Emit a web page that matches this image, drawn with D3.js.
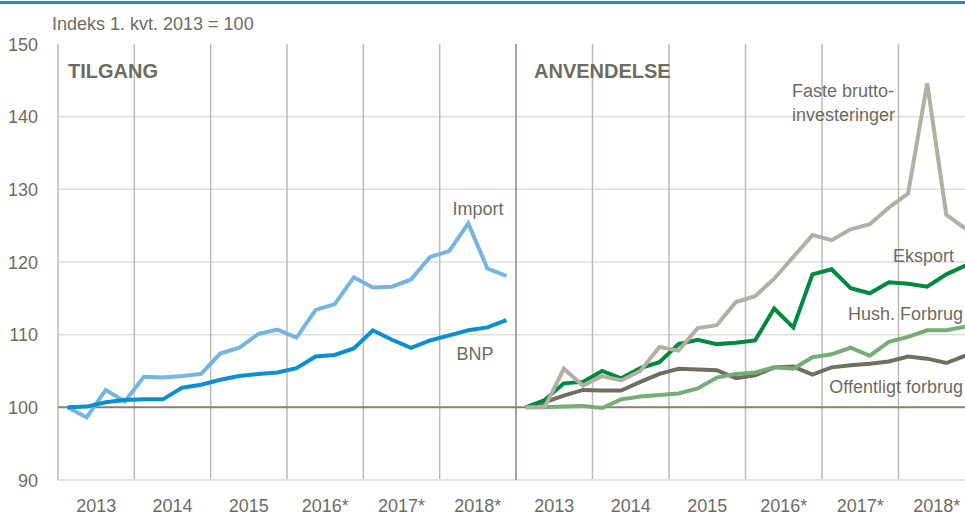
<!DOCTYPE html>
<html>
<head>
<meta charset="utf-8">
<script src="https://cdn.jsdelivr.net/npm/d3@7"></script>
<style>
  body { margin: 0; background: #fff; }
  text { font-family: "Liberation Sans Narrow", "Arial Narrow", "Liberation Sans", Arial, sans-serif; fill: #6e6c5f; }
</style>
</head>
<body>
<div id="chart-area"></div>
<script>
// years and quarters
var years = ["2013", "2014", "2015", "2016*", "2017*", "2018*"];
var quarters = [];
years.forEach(function(y) {
    ["K1", "K2", "K3", "K4"].forEach(function(q) { quarters.push(y + q); });
});
var yTicks = [90, 100, 110, 120, 130, 140, 150];

// tilgang (left panel)
var bnp = [100, 100.1, 100.7, 101.0, 101.1, 101.1, 102.7, 103.1, 103.8, 104.3, 104.6, 104.8,
           105.4, 107.0, 107.2, 108.1, 110.6, 109.3, 108.2, 109.2, 109.9, 110.6, 111.0, 112.0];
var importSeries = [100, 98.6, 102.4, 100.8, 104.2, 104.1, 104.3, 104.6, 107.4, 108.2, 110.1, 110.7,
                    109.6, 113.4, 114.2, 117.9, 116.5, 116.6, 117.6, 120.7, 121.5, 125.3, 119.1, 118.1];

// anvendelse (right panel)
var offentligt = [100, 100.7, 101.6, 102.4, 102.3, 102.3, 103.5, 104.6, 105.3, 105.2, 105.1, 104.0,
                  104.4, 105.5, 105.6, 104.5, 105.5, 105.8, 106.0, 106.3, 107.0, 106.7, 106.1, 107.1];
var hush = [100, 100.0, 100.1, 100.2, 99.9, 101.1, 101.5, 101.7, 101.9, 102.6, 104.1, 104.6,
            104.8, 105.5, 105.3, 106.9, 107.3, 108.2, 107.1, 109.0, 109.7, 110.6, 110.6, 111.1];
var eksport = [100, 101.0, 103.3, 103.5, 105.0, 104.0, 105.4, 106.2, 108.7, 109.3, 108.7, 108.9,
               109.2, 113.6, 111.0, 118.3, 119.0, 116.4, 115.7, 117.2, 117.0, 116.6, 118.3, 119.5];
var faste = [100, 100, 105.3, 103.0, 104.3, 103.7, 105.0, 108.3, 107.8, 110.9, 111.3, 114.5,
             115.3, 117.7, 120.7, 123.7, 123.0, 124.5, 125.2, 127.5, 129.4, 144.6, 126.5, 124.6];

var width = 965, height = 515;
var margin = { top: 44, left: 58, bottom: 35 };
var mid = 516, rightEnd = 975;

var svg = d3.select("#chart-area")
    .append("svg")
        .attr("width", width)
        .attr("height", height);

// blue rule on top
svg.append("rect")
    .attr("x", 0).attr("y", 1)
    .attr("width", width).attr("height", 3)
    .attr("fill", "#1a93d6");

var y = d3.scaleLinear()
    .domain([90, 150])
    .range([height - margin.bottom, margin.top]);

// quarter scales for each panel
var xL = d3.scaleBand().domain(quarters).range([margin.left, mid]);
var xR = d3.scaleBand().domain(quarters).range([mid, rightEnd]);
var yearL = d3.scaleBand().domain(years).range([margin.left, mid]);
var yearR = d3.scaleBand().domain(years).range([mid, rightEnd]);

// horizontal gridlines
svg.append("g")
    .selectAll("line")
    .data(yTicks.filter(function(d) { return d > 100 && d < 150; }))
    .enter().append("line")
        .attr("x1", margin.left).attr("x2", width)
        .attr("y1", function(d) { return y(d); })
        .attr("y2", function(d) { return y(d); })
        .attr("stroke", "#dedede")
        .attr("stroke-width", 1.5);

// vertical year gridlines
[yearL, yearR].forEach(function(s) {
    svg.append("g")
        .selectAll("line")
        .data(years.slice(1))
        .enter().append("line")
            .attr("x1", function(d) { return s(d); })
            .attr("x2", function(d) { return s(d); })
            .attr("y1", y(150)).attr("y2", y(90))
            .attr("stroke", "#bebcae")
            .attr("stroke-width", 1.5);
});

// bottom axis line
svg.append("line")
    .attr("x1", margin.left).attr("x2", width)
    .attr("y1", y(90)).attr("y2", y(90))
    .attr("stroke", "#e2e2e2").attr("stroke-width", 2);

// left axis line
svg.append("line")
    .attr("x1", margin.left).attr("x2", margin.left)
    .attr("y1", y(150)).attr("y2", y(90))
    .attr("stroke", "#cdcbbf").attr("stroke-width", 2);

// panel separator
svg.append("line")
    .attr("x1", mid).attr("x2", mid)
    .attr("y1", y(150)).attr("y2", y(90))
    .attr("stroke", "#8a887a").attr("stroke-width", 1.5);

// y axis labels
var yAxisCall = d3.axisLeft(y).tickValues(yTicks).tickSize(0).tickPadding(20);
var yAxis = svg.append("g")
    .attr("transform", "translate(" + margin.left + ",0)")
    .call(yAxisCall);
yAxis.select(".domain").remove();
yAxis.selectAll("text")
    .attr("font-size", 18)
    .attr("dy", "0.35em")
    .style("font-family", null);

// x axis year labels
[yearL, yearR].forEach(function(s) {
    var ax = svg.append("g")
        .attr("transform", "translate(0," + y(90) + ")")
        .call(d3.axisBottom(s).tickSize(0).tickPadding(19));
    ax.select(".domain").remove();
    ax.selectAll("text")
        .attr("font-size", 18)
        .style("font-family", null);
});

// baseline at 100
svg.append("line")
    .attr("x1", margin.left).attr("x2", width)
    .attr("y1", y(100)).attr("y2", y(100))
    .attr("stroke", "#85836f").attr("stroke-width", 2);

// lines
function drawLine(xs, values, color) {
    var line = d3.line()
        .x(function(d, i) { return xs(quarters[i]) + xs.bandwidth() / 2; })
        .y(function(d) { return y(d); });
    svg.append("path")
        .datum(values)
        .attr("fill", "none")
        .attr("stroke", color)
        .attr("stroke-width", 4)
        .attr("stroke-linejoin", "miter")
        .attr("d", line);
}

drawLine(xL, importSeries, "#74b5e4");
drawLine(xL, bnp, "#0a8fd2");
drawLine(xR, offentligt, "#706e61");
drawLine(xR, hush, "#74ae73");
drawLine(xR, eksport, "#008a3d");
drawLine(xR, faste, "#b2b0a3");

// texts
function label(txt, x, yy, size, anchor, weight) {
    svg.append("text")
        .attr("x", x).attr("y", yy)
        .attr("font-size", size)
        .attr("text-anchor", anchor || "start")
        .attr("font-weight", weight || "normal")
        .text(txt);
}

label("Indeks 1. kvt. 2013 = 100", 52, 30, 18);
label("TILGANG", 68, 78, 20, "start", "bold");
label("ANVENDELSE", 534, 78, 20, "start", "bold");
label("Import", 478, 215, 18, "middle");
label("BNP", 475, 360, 18, "middle");
label("Faste brutto-", 792, 97, 18);
label("investeringer", 792, 121, 18);
label("Eksport", 954, 262, 18, "end");
label("Hush. Forbrug", 963, 320, 18, "end");
label("Offentligt forbrug", 963, 393, 18, "end");
</script>
</body>
</html>
